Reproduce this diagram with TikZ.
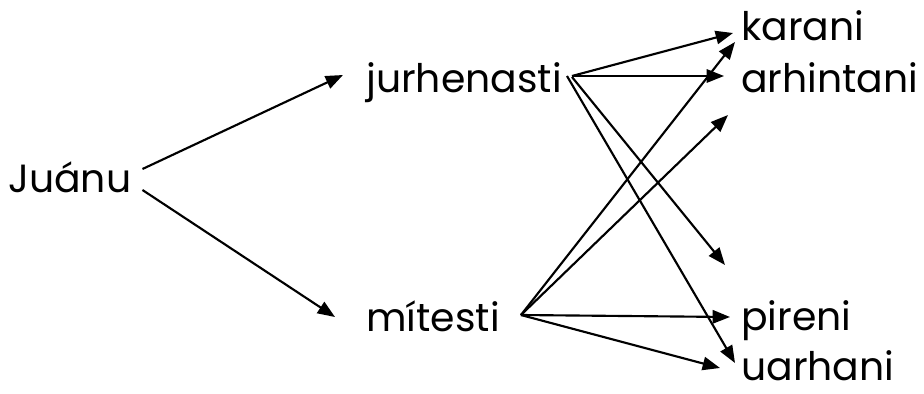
\documentclass[tikz,border=0pt]{standalone}
\usepackage{fontspec}
\setmainfont{Poppins}
\usetikzlibrary{arrows.meta}
\definecolor{InkK}{RGB}{0,0,0}

\tikzset{
  word/.style={anchor=base west,inner sep=0pt,text=InkK,font=\fontsize{29.5}{36}\selectfont},
  link/.style={-{Triangle[length=13pt,width=10pt]},InkK,line width=1.6pt}
}

\begin{document}
\begin{tikzpicture}[x=0.75pt,y=-0.75pt]
        \useasboundingbox (0,0) rectangle (924,393);
        % words
        \node[word] (juanu) at (8,192)   {Juánu};
        \node[word] (jurh)  at (366,92)  {jurhenasti};
        \node[word] (mit)   at (366,331) {mítesti};
        \node[word] (kar)   at (741,40)  {karani};
        \node[word] (arh)   at (741,92)  {arhintani};
        \node[word] (pir)   at (741,330) {pireni};
        \node[word] (uar)   at (741,380) {uarhani};
        \coordinate (gapA) at (728,115);
        \coordinate (gapB) at (725,265);
        % first step
        \draw[link] ([shift={(11,-23)}]juanu.base east) -- ([shift={(-23,-17)}]jurh.base west);
        \draw[link] ([shift={(11,-2)}]juanu.base east)  -- ([shift={(-31,-14)}]mit.base west);
        % from jurhenasti
        \draw[link] ([shift={(10,-16)}]jurh.base east) -- ([shift={(-8,-7)}]kar.base west);
        \draw[link] ([shift={(10,-16)}]jurh.base east) -- ([shift={(-17,-16)}]arh.base west);
        \draw[link] ([shift={(10,-15)}]jurh.base east) -- (gapB);
        \draw[link] ([shift={(5,-16)}]jurh.base east) -- ([shift={(-6,-17)}]uar.base west);
        % from mitesti
        \draw[link] ([shift={(21,-16)}]mit.base east) -- ([shift={(-6,2)}]kar.base west);
        \draw[link] ([shift={(21,-16)}]mit.base east) -- (gapA);
        \draw[link] ([shift={(21,-16)}]mit.base east) -- ([shift={(-11,-13)}]pir.base west);
        \draw[link] ([shift={(21,-16)}]mit.base east) -- ([shift={(-21,-12)}]uar.base west);
      \end{tikzpicture}
\end{document}
